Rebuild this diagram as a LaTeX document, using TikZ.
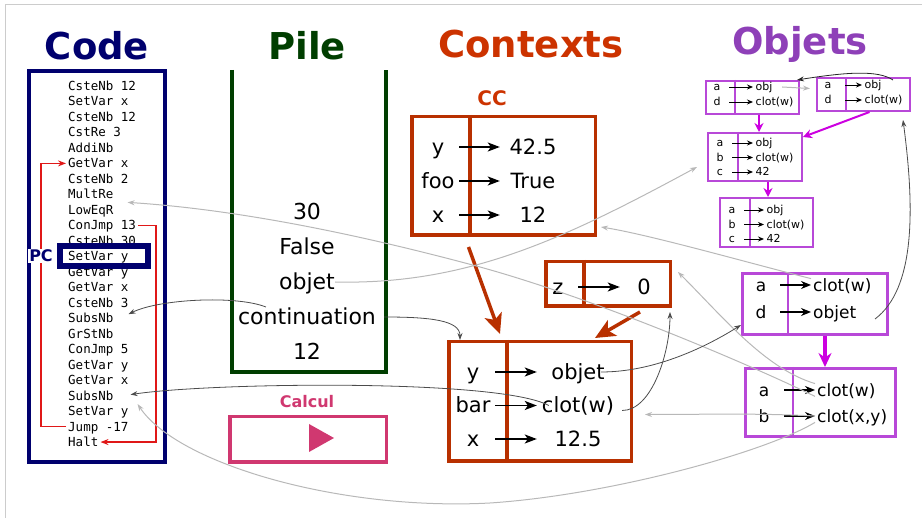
\documentclass[tikz,border=0pt]{standalone}
\usepackage{fontspec}
\setmainfont{DejaVu Sans}
\setmonofont{DejaVu Sans Mono}
\usetikzlibrary{arrows.meta}

\definecolor{codeblue}{RGB}{0,0,110}
\definecolor{pilegreen}{RGB}{0,62,0}
\definecolor{ctxorange}{RGB}{204,51,0}
\definecolor{ctxred}{RGB}{184,48,0}
\definecolor{objviolet}{RGB}{142,64,184}
\definecolor{objline}{RGB}{184,72,216}
\definecolor{objarrow}{RGB}{204,0,224}
\definecolor{calcpink}{RGB}{208,56,112}
\definecolor{jumpred}{RGB}{224,24,24}

\tikzset{
  headline/.style={anchor=base, font=\fontsize{37}{40}\selectfont\bfseries},
  instr/.style={anchor=west, inner sep=2pt, text height=9pt, text depth=0pt,
    font=\fontsize{12.5}{14}\selectfont\ttfamily},
  jump/.style={jumpred, line width=1.3pt, -{Stealth[length=8pt,width=6pt]}},
  stackitem/.style={inner sep=0pt, text height=16pt, text depth=0pt,
    font=\fontsize{22}{26}\selectfont},
  ctxbox/.style={draw=ctxred, line width=3.5pt, inner sep=0pt},
  ctxsep/.style={ctxred, line width=3.5pt},
  ctxkey/.style={inner sep=0pt, text height=15pt, text depth=0pt,
    font=\fontsize{21}{25}\selectfont},
  ctxarrow/.style={line width=1.5pt, -{Stealth[length=12pt,width=9pt,inset=3pt]}},
  ctxlink/.style={ctxred, line width=3.5pt, -{Stealth[length=20pt,width=18pt,inset=5pt]}},
  objbox/.style={draw=objline, line width=2pt, inner sep=0pt},
  objsep/.style={objline, line width=1.5pt},
  smallkey/.style={inner sep=0pt, text height=8pt, text depth=0pt,
    font=\fontsize{11}{13}\selectfont},
  smallval/.style={smallkey, anchor=west, inner xsep=2.5pt},
  smallarrow/.style={line width=0.9pt, -{Stealth[length=6pt,width=5pt]}},
  bigobjbox/.style={draw=objline, line width=3pt, inner sep=0pt},
  bigsep/.style={objline, line width=2.5pt},
  bigkey/.style={inner sep=0pt, text height=12.4pt, text depth=0pt,
    font=\fontsize{17}{20}\selectfont},
  bigval/.style={bigkey, anchor=west, inner xsep=2pt},
  bigarrow/.style={line width=1.3pt, -{Stealth[length=10pt,width=8pt]}},
  objlink/.style={objarrow, line width=2pt, -{Stealth[length=9pt,width=9pt]}},
  thinlink/.style={black!70, line width=0.8pt, -{Stealth[length=7pt,width=5pt]}},
  faintlink/.style={black!28, line width=1pt, -{Stealth[length=7pt,width=5pt]}},
}

\begin{document}
\begin{tikzpicture}[x=1pt, y=-1pt]
  \useasboundingbox (0,0) rectangle (922,518);
  % thin frame on the top and left edges
  \draw[black!20, line width=1pt] (5,518) -- (5,5) -- (922,5);

  % Column headings
  \node[headline, codeblue] (codehead) at (97,60) {Code};
  \node[headline, pilegreen] (pilehead) at (307,60) {Pile};
  \node[headline, ctxorange] (ctxhead) at (531,58) {Contexts};
  \node[headline, objviolet] (objhead) at (800,55) {Objets};

  % Code listing
  \node[draw=codeblue, line width=4pt, minimum width=136, minimum height=391, inner sep=0pt] (code) at (97,266.5) {};
  \foreach \op [count=\i] in {CsteNb 12, SetVar x, CsteNb 12, CstRe 3, AddiNb, GetVar x,
      CsteNb 2, MultRe, LowEqR, ConJmp 13, CsteNb 30, SetVar y, GetVar y, GetVar x,
      CsteNb 3, SubsNb, GrStNb, ConJmp 5, GetVar y, GetVar x, SubsNb, SetVar y,
      Jump -17, Halt}
    \node[instr] (c\i) at (66,{86+15.48*(\i-1)}) {\op};

  % jump targets
  \draw[jump] (c23.west) -- ++(-25,0) |- (c6.west);
  \draw[jump] (c10.east) -- ++(18,0) |- (c24.east);

  % program counter
  \node[draw=codeblue, line width=5.5pt, minimum width=88, minimum height=20, inner sep=0pt] (pc) at (104,256) {};
  \node[fill=white, inner sep=1pt, text=codeblue, font=\fontsize{16}{18}\selectfont\bfseries] (pclabel) at (41,256) {PC};

  % Stack
  \draw[pilegreen, line width=4pt] (232,70) -- (232,372) -- (386,372) -- (386,70);
  \foreach \val [count=\i] in {30, False, objet, continuation, 12}
    \node[stackitem] (s\i) at (307,{212+35*(\i-1)}) {\val};

  % Calcul button
  \node[calcpink, anchor=base, font=\fontsize{16}{18}\selectfont\bfseries] (calclabel) at (307,408) {Calcul};
  \node[draw=calcpink, line width=3.5pt, minimum width=156.5, minimum height=45.5, inner sep=0pt] (calc) at (308,439.5) {};
  \fill[calcpink] (309,424) -- (309,452) -- (334,438) -- cycle;

  % Current context
  \node[ctxorange, anchor=base, font=\fontsize{20}{22}\selectfont\bfseries] (cclabel) at (492,106) {CC};
  \node[ctxbox, minimum width=183.5, minimum height=118.5] (cc) at (503.5,176) {};
  \draw[ctxsep] (470,0 |- cc.north) -- (470,0 |- cc.south);
  \foreach \fld/\val [count=\i] in {y/42.5, foo/True, x/12} {
    \node[ctxkey, minimum width=42] (cck\i) at (438,{147+34*(\i-1)}) {\fld};
    \node[ctxkey, minimum width=66] (ccv\i) at (533,{147+34*(\i-1)}) {\val};
    \draw[ctxarrow] (cck\i) -- (ccv\i);
  }

  % z context
  \node[ctxbox, minimum width=124.5, minimum height=44.5] (z) at (608,284) {};
  \draw[ctxsep] (584,0 |- z.north) -- (584,0 |- z.south);
  \node[ctxkey, minimum width=40] (zk) at (558,287) {z};
  \node[ctxkey, minimum width=48] (zv) at (644,287) {0};
  \draw[ctxarrow] (zk) -- (zv);

  % Active context
  \node[ctxbox, minimum width=182.5, minimum height=119.5] (ctx) at (540,401.5) {};
  \draw[ctxsep] (507,0 |- ctx.north) -- (507,0 |- ctx.south);
  \foreach \fld/\val [count=\i] in {y/objet, bar/clot(w), x/12.5} {
    \node[ctxkey, minimum width=44] (ck\i) at (473,{372+33.5*(\i-1)}) {\fld};
    \node[ctxkey, minimum width=82] (cv\i) at (578,{372+33.5*(\i-1)}) {\val};
    \draw[ctxarrow] (ck\i) -- (cv\i);
  }

  % parent links
  \draw[ctxlink] ([xshift=-35pt,yshift=-10pt]cc.south) -- ([xshift=-40pt,yshift=6pt]ctx.north);
  \draw[ctxlink] ([xshift=32pt,yshift=-4pt]z.south) -- ([xshift=-38pt,yshift=2pt]ctx.north east);

  % Objects, small ones
  \node[objbox, minimum width=93, minimum height=33] (o1) at (752.5,97.5) {};
  \draw[objsep] (735,0 |- o1.north) -- (735,0 |- o1.south);
  \foreach \fld/\val [count=\i] in {a/obj, d/clot(w)} {
    \node[smallkey, minimum width=24] (o1k\i) at (717,{87+15*(\i-1)}) {\fld};
    \node[smallval] (o1v\i) at (753,{87+15*(\i-1)}) {\val};
    \draw[smallarrow] (o1k\i) -- (o1v\i);
  }
  \node[objbox, minimum width=93, minimum height=33] (o2) at (863.5,94.5) {};
  \draw[objsep] (846,0 |- o2.north) -- (846,0 |- o2.south);
  \foreach \fld/\val [count=\i] in {a/obj, d/clot(w)} {
    \node[smallkey, minimum width=34] (o2k\i) at (828,{85+15*(\i-1)}) {\fld};
    \node[smallval] (o2v\i) at (862,{85+15*(\i-1)}) {\val};
    \draw[smallarrow] (o2k\i) -- (o2v\i);
  }
  \node[objbox, minimum width=94, minimum height=48] (o3) at (755,157) {};
  \draw[objsep] (738,0 |- o3.north) -- (738,0 |- o3.south);
  \foreach \fld/\val [count=\i] in {a/obj, b/clot(w), c/42} {
    \node[smallkey, minimum width=24] (o3k\i) at (720,{143+14.5*(\i-1)}) {\fld};
    \node[smallval] (o3v\i) at (753,{143+14.5*(\i-1)}) {\val};
    \draw[smallarrow] (o3k\i) -- (o3v\i);
  }
  \node[objbox, minimum width=93, minimum height=49] (o4) at (766.5,222.5) {};
  \draw[objsep] (750,0 |- o4.north) -- (750,0 |- o4.south);
  \foreach \fld/\val [count=\i] in {a/obj, b/clot(w), c/42} {
    \node[smallkey, minimum width=24] (o4k\i) at (732,{210+14.5*(\i-1)}) {\fld};
    \node[smallval] (o4v\i) at (764,{210+14.5*(\i-1)}) {\val};
    \draw[smallarrow] (o4k\i) -- (o4v\i);
  }

  % Objects, large ones
  \node[bigobjbox, minimum width=145, minimum height=61] (o5) at (815,304) {};
  \draw[bigsep] (788,0 |- o5.north) -- (788,0 |- o5.south);
  \foreach \fld/\val [count=\i] in {a/clot(w), d/objet} {
    \node[bigkey, minimum width=38] (o5k\i) at (761,{285+27*(\i-1)}) {\fld};
    \node[bigval] (o5v\i) at (811,{285+27*(\i-1)}) {\val};
    \draw[bigarrow] (o5k\i) -- (o5v\i);
  }
  \node[bigobjbox, minimum width=150, minimum height=68] (o6) at (820.5,402.5) {};
  \draw[bigsep] (793,0 |- o6.north) -- (793,0 |- o6.south);
  \foreach \fld/\val [count=\i] in {a/clot(w), b/{clot(x,y)}} {
    \node[bigkey, minimum width=40] (o6k\i) at (764,{390+26*(\i-1)}) {\fld};
    \node[bigval] (o6v\i) at (815,{390+26*(\i-1)}) {\val};
    \draw[bigarrow] (o6k\i) -- (o6v\i);
  }

  % prototype chains
  \draw[objlink] (759,0 |- o1.south) -- (759,0 |- o3.north);
  \draw[objlink] (768,0 |- o3.south) -- (768,0 |- o4.north);
  \draw[objlink] ([xshift=6pt]o2.south) -- ([yshift=-5pt]o3.north east);
  \draw[objarrow, line width=4pt, -{Stealth[length=14pt,width=13pt]}] (825,0 |- o5.south) -- (825,0 |- o6.north);
  \draw[faintlink] ([xshift=7pt]o1v1.east) -- ([xshift=-6pt,yshift=6pt]o2.west);
  \draw[thinlink, black!85] ([xshift=-18pt,yshift=-3pt]o2.north east) .. controls +(-15,-10) and +(50,-8) .. ([xshift=-3pt]o1.north east);

  % references across the columns
  \draw[faintlink] (s3.east) .. controls +(132,3) and +(-133,72) .. ([xshift=-10pt,yshift=-10pt]o3.west);
  \draw[faintlink] (o6v1.south west) .. controls +(-57,-28) and +(120,33) .. (480,267)
    .. controls +(-100,-27) and +(123,8) .. ([xshift=12pt,yshift=-8pt]c8.east);
  \draw[faintlink] (o5v1.north west) .. controls +(-60,-15) and +(50,8) .. ([xshift=4pt,yshift=10pt]cc.south east);
  \draw[faintlink] (o6v1.north west) .. controls +(-50,-15) and +(45,45) .. ([xshift=6pt,yshift=12pt]z.east);
  \draw[faintlink] (o6v2.west) .. controls +(-60,-3) and +(60,0) .. ([xshift=12pt,yshift=-13pt]ctx.east);
  \draw[faintlink] (o6v2.south west) .. controls +(-50,30) and +(120,-8) .. (490,503)
    .. controls +(-150,8) and +(40,60) .. ([xshift=7pt,yshift=7pt]c22.east);
  \draw[thinlink] ([xshift=-18pt]cv1.east) .. controls +(50,0) and +(-40,25) .. ([yshift=11pt]o5.south west);
  \draw[thinlink] ([xshift=3pt,yshift=-5pt]cv2.east) .. controls +(30,0) and +(0,40) .. ([xshift=-2pt,yshift=-4pt]z.south east);
  \draw[thinlink] ([xshift=-14pt,yshift=-15pt]o5.east) .. controls +(40,-30) and +(12,90) .. ([xshift=-8pt,yshift=-8pt]o2.south east);
  \draw[thinlink] ([xshift=8pt]s4.east) .. controls +(45,0) and +(0,-20) .. ([xshift=13pt]ctx.north west);
  \draw[thinlink] ([xshift=28pt,yshift=10pt]s4.west) .. controls +(-30,-12) and +(30,-15) .. ([xshift=13pt,yshift=4pt]c16.east);
  \draw[thinlink] ([xshift=12pt]cv2.west) .. controls +(-50,-27) and +(80,-12) .. ([xshift=15pt,yshift=1pt]c21.east);
\end{tikzpicture}
\end{document}
